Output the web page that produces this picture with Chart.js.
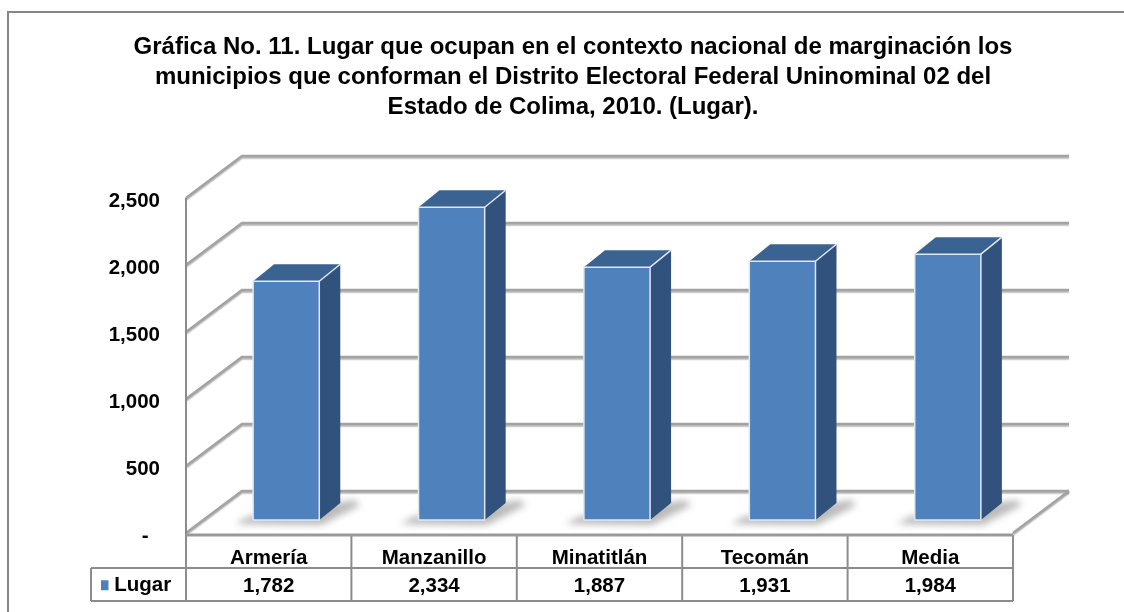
<!DOCTYPE html>
<html>
<head>
<meta charset="utf-8">
<title>Lugar</title>
<script src="https://cdn.jsdelivr.net/npm/chart.js@4"></script>
<style>
    html, body { margin: 0; padding: 0; background: #fff; overflow: hidden; }
    canvas { display: block; }
</style>
</head>
<body>
<canvas id="barChart" width="1124" height="612"></canvas>
<script>
var titleLines = [
    "Gráfica No. 11. Lugar que ocupan en el contexto nacional de marginación los",
    "municipios que conforman el Distrito Electoral Federal Uninominal 02 del",
    "Estado de Colima, 2010. (Lugar)."
];
var categories = ["Armería", "Manzanillo", "Minatitlán", "Tecomán", "Media"];
var lugarValues = [1782, 2334, 1887, 1931, 1984];
var seriesName = "Lugar";

function fmt(v) {
    return v.toLocaleString("en-US");
}

// the value row of the data table goes under each category as a second label line
var tableLabels = categories.map(function(c, i) {
    return [c, fmt(lugarValues[i])];
});

var FONT = "'Liberation Sans', Arial, sans-serif";
var LINE = "#8c8c8c";
var BLUE = "#4f81bd";

// the tick labels sit a little under their gridlines, so the walls are drawn 3px above the scale
var gridShift = -3;
// depth of the back wall, and where the bars stand on the floor
var wallDx = 56, wallDy = -42;
var barShiftX = 17.5, barShiftY = -16;
var barDx = 21, barDy = -17;

function strokePath(ctx, pts) {
    ctx.beginPath();
    ctx.moveTo(pts[0][0], pts[0][1]);
    for (var i = 1; i < pts.length; i++) ctx.lineTo(pts[i][0], pts[i][1]);
    ctx.stroke();
}

function fillPath(ctx, pts, color) {
    ctx.beginPath();
    ctx.moveTo(pts[0][0], pts[0][1]);
    for (var i = 1; i < pts.length; i++) ctx.lineTo(pts[i][0], pts[i][1]);
    ctx.closePath();
    ctx.fillStyle = color;
    ctx.fill();
}

var box3d = {
    id: "box3d",
    afterLayout: function(chart) {
        // legend sits in the first cell of the table's value row
        var lg = chart.legend;
        lg.left = 101;
        lg.right = 184;
        lg.top = 573;
        lg.bottom = 600;
    },
    beforeDraw: function(chart) {
        var ctx = chart.ctx;
        ctx.save();
        ctx.strokeStyle = "#868686";
        ctx.lineWidth = 2;
        strokePath(ctx, [[8, 612], [8, 12], [1124, 12]]);
        ctx.restore();
    },
    beforeDatasetsDraw: function(chart) {
        var ctx = chart.ctx;
        var a = chart.chartArea;
        var y = chart.scales.y;
        var x = chart.scales.x;
        var floorY = a.bottom + gridShift;

        ctx.save();
        ctx.strokeStyle = "#a3a3a3";
        ctx.lineWidth = 2.5;
        ctx.shadowColor = "rgba(0,0,0,0.3)";
        ctx.shadowBlur = 1.5;
        ctx.shadowOffsetY = 1.5;
        y.ticks.forEach(function(t) {
            var py = y.getPixelForValue(t.value) + gridShift;
            strokePath(ctx, [[a.left, py], [a.left + wallDx, py + wallDy], [a.right + wallDx, py + wallDy]]);
        });
        strokePath(ctx, [[a.right, floorY], [a.right + wallDx, floorY + wallDy]]);
        ctx.restore();

        // data table frame
        ctx.save();
        ctx.strokeStyle = LINE;
        ctx.lineWidth = 2;
        var row1 = floorY + 35, row2 = floorY + 68;
        strokePath(ctx, [[a.left, y.top + gridShift], [a.left, row2]]);
        var half = (x.getPixelForValue(1) - x.getPixelForValue(0)) / 2;
        categories.forEach(function(c, i) {
            var px = x.getPixelForValue(i) + half;
            strokePath(ctx, [[px, floorY + 2], [px, row2]]);
        });
        strokePath(ctx, [[91, row1], [a.right, row1]]);
        strokePath(ctx, [[91, row2], [a.right, row2]]);
        strokePath(ctx, [[91, row1], [91, row2]]);
        ctx.lineWidth = 3;
        ctx.strokeStyle = "#9a9a9a";
        strokePath(ctx, [[a.left, floorY + 2], [a.right, floorY + 2]]);
        ctx.restore();

        // bar shadows, sides and tops; the fronts are the library's own bars
        ctx.save();
        ctx.translate(barShiftX, barShiftY);
        var bars = chart.getDatasetMeta(0).data;
        bars.forEach(function(b) {
            var l = b.x - b.width / 2, r = b.x + b.width / 2;
            ctx.save();
            ctx.filter = "blur(3.5px)";
            fillPath(ctx, [
                [l - 6, b.base - 3], [l - 18, b.base + 4], [r + 2, b.base + 5],
                [r + barDx + 20, b.base + barDy + 2], [r + barDx + 14, b.base + barDy - 3]
            ], "rgba(90,90,90,0.42)");
            ctx.restore();
        });
        bars.forEach(function(b) {
            var l = b.x - b.width / 2, r = b.x + b.width / 2;
            fillPath(ctx, [[r, b.y], [r + barDx, b.y + barDy], [r + barDx, b.base + barDy], [r, b.base]], "#30527c");
            fillPath(ctx, [[l, b.y], [l + barDx, b.y + barDy], [r + barDx, b.y + barDy], [r, b.y]], "#3a6391");
        });
    },
    afterDatasetsDraw: function(chart) {
        var ctx = chart.ctx;
        var bars = chart.getDatasetMeta(0).data;
        ctx.strokeStyle = "#dfe7f1";
        ctx.lineWidth = 1.5;
        bars.forEach(function(b) {
            var l = b.x - b.width / 2, r = b.x + b.width / 2;
            strokePath(ctx, [[l, b.base], [l, b.y], [r, b.y], [r, b.base], [l, b.base]]);
            strokePath(ctx, [[r, b.y], [r + barDx, b.y + barDy]]);
        });
        ctx.restore();
    }
};

var chart1 = new Chart(document.getElementById("barChart"), {
    type: "bar",
    data: {
        labels: tableLabels,
        datasets: [
            {
                label: seriesName,
                data: lugarValues,
                backgroundColor: BLUE,
                barPercentage: 0.4,
                categoryPercentage: 1,
                clip: false
            }
        ]
    },
    options: {
        responsive: false,
        animation: false,
        layout: { padding: { left: 22, right: 0, top: 0, bottom: 0 } },
        plugins: {
            tooltip: { enabled: false },
            title: {
                display: true,
                text: titleLines,
                color: "#000",
                font: { family: FONT, size: 24, weight: "bold", lineHeight: 1.25 },
                padding: { top: 32, bottom: 79 }
            },
            legend: {
                display: true,
                position: "chartArea",
                align: "start",
                labels: {
                    color: "#000",
                    padding: 2,
                    font: { family: FONT, size: 20.5, weight: "bold" },
                    boxWidth: 1,
                    boxHeight: 1,
                    // a 1px box with a thick edge keeps the text as close to the key as in the picture
                    generateLabels: function() {
                        return [{ text: seriesName, fillStyle: BLUE, strokeStyle: BLUE, lineWidth: 9, fontColor: "#000", datasetIndex: 0 }];
                    }
                }
            }
        },
        scales: {
            x: {
                grid: { display: false },
                border: { display: false },
                afterFit: function(s) { s.height = 76; },
                ticks: {
                    color: "#000",
                    padding: 0,
                    maxRotation: 0,
                    autoSkip: false,
                    font: { family: FONT, size: 20.5, weight: "bold", lineHeight: 1.38 }
                }
            },
            y: {
                min: 0,
                max: 2500,
                grid: { display: false },
                border: { display: false },
                afterFit: function(s) { s.width = 164; },
                ticks: {
                    stepSize: 500,
                    color: "#000",
                    padding: 18,
                    font: { family: FONT, size: 20.5, weight: "bold" },
                    callback: function(v) { return v === 0 ? "-  " : fmt(v); }
                }
            },
            // empty axis, only keeps the plot clear of the right margin
            spacer: {
                type: "linear",
                position: "right",
                grid: { display: false },
                border: { display: false },
                ticks: { display: false },
                afterFit: function(s) { s.width = 111; }
            }
        }
    },
    plugins: [box3d]
});
</script>
</body>
</html>
